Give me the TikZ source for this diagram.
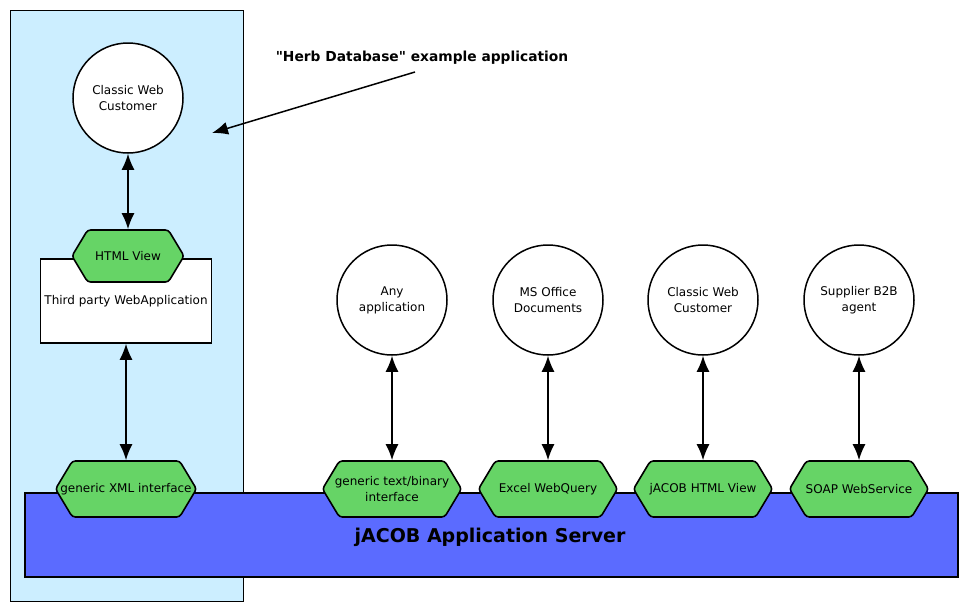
\documentclass[tikz,border=0pt]{standalone}
\usepackage{fontspec}
\setmainfont{DejaVu Sans}
\newfontfamily\notefont{DejaVu Sans}[Ligatures=TeXOff]
\usetikzlibrary{%
  arrows.meta,%
  shapes.symbols%
}
\definecolor{appblue}{HTML}{CCEEFF}
\definecolor{srvblue}{HTML}{5B6BFF}
\definecolor{ifgreen}{HTML}{66D466}
\tikzset{>={Latex[length=16pt,width=13pt]}}
\tikzset{
  client/.style={circle,draw,line width=1.5pt,fill=white,minimum size=110pt,
    align=center,font=\fontsize{12}{16}\selectfont,inner sep=0pt},
  iface/.style={signal,signal to=east and west,signal pointer angle=118,draw,
    line width=1.6pt,fill=ifgreen,minimum width=139pt,minimum height=56pt,
    inner ysep=0pt,inner xsep=-12pt,align=center,rounded corners=3pt,
    font=\fontsize{12}{16}\selectfont},
  link/.style={<->,line width=1.6pt}
}

\begin{document}
\begin{tikzpicture}[x=1pt,y=-1pt]
        \useasboundingbox (0,0) rectangle (969,611);
        % example application area
        \draw[fill=appblue,line width=1pt] (10,10) rectangle (243,601);
        % application server
        \draw[fill=srvblue,line width=2pt] (25,493) rectangle (958,577);
        \node[font=\bfseries\fontsize{19}{22}\selectfont] (srv) at (490,537)
        {jACOB Application Server};
        % clients
        \node[client] (web) at (128,98) {Classic Web\\Customer};
        \node[client] (any) at (392,300) {Any\\application};
        \node[client] (office) at (548,300) {MS Office\\Documents};
        \node[client] (jweb) at (703,300) {Classic Web\\Customer};
        \node[client] (b2b) at (859,300) {Supplier B2B\\agent};
        % third party application
        \node[draw,fill=white,line width=1.5pt,minimum width=171pt,minimum height=84pt,
        font=\fontsize{12}{16}\selectfont] (tpa) at (126,301) {Third party WebApplication};
        % interfaces
        \node[iface,minimum width=112pt,minimum height=52pt] (html) at (128,256) {HTML View};
        \node[iface] (xml) at (126,489) {generic XML interface};
        \node[iface] (txt) at (392,489) {generic text/binary\\interface};
        \node[iface] (xls) at (548,489) {Excel WebQuery};
        \node[iface] (jhtml) at (703,489) {jACOB HTML View};
        \node[iface] (soap) at (859,489) {SOAP WebService};
        % connections
        \draw[link] (web) -- (html);
        \draw[link] (tpa) -- (xml);
        \draw[link] (any) -- (txt);
        \draw[link] (office) -- (xls);
        \draw[link] (jweb) -- (jhtml);
        \draw[link] (b2b) -- (soap);
        % annotation
        \node[font=\notefont\bfseries\fontsize{13.8}{16}\selectfont] (note) at (422,58)
        {"Herb Database" example application};
        \coordinate (tip) at (212,133);
        \draw[->,line width=1.5pt] (415,72) -- (tip);
      \end{tikzpicture}
\end{document}
